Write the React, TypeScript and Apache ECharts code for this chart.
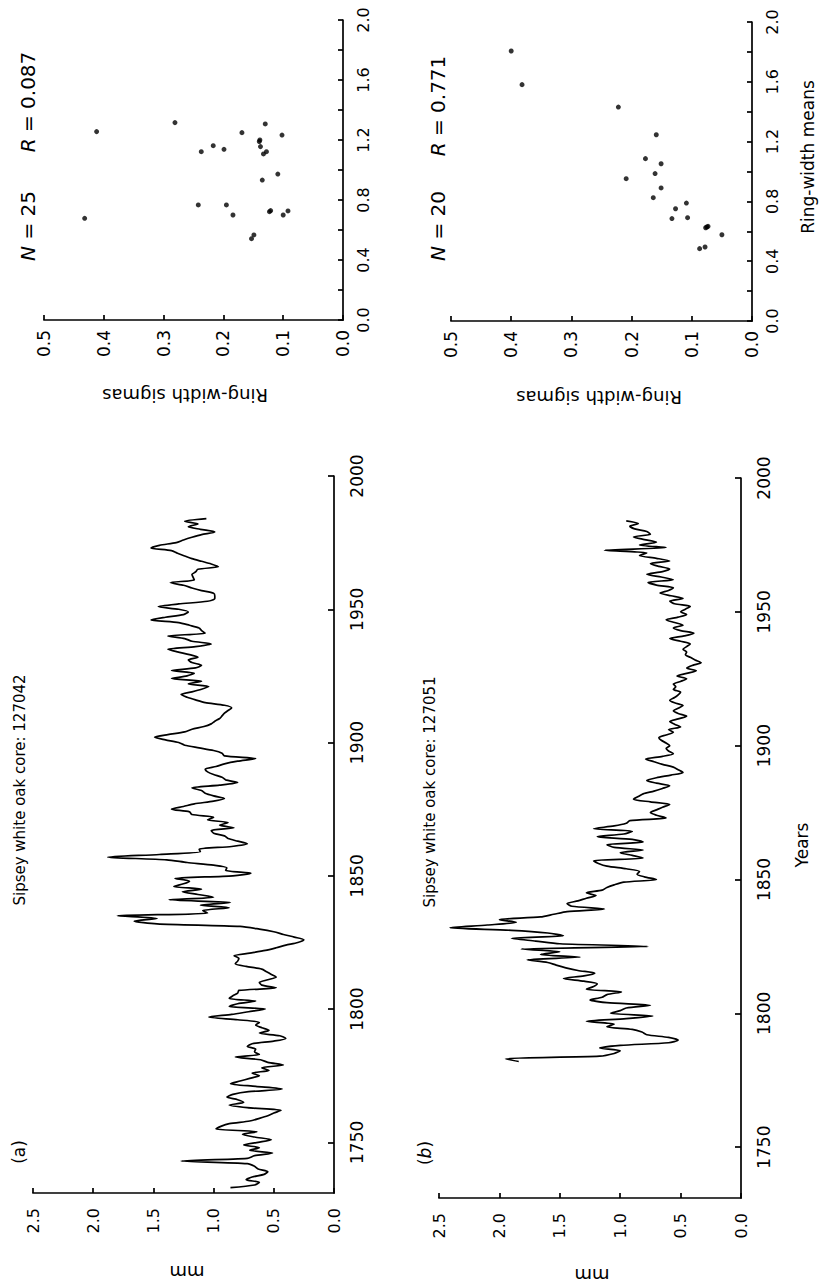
import React, { useEffect, useRef } from "react";
import * as echarts from "echarts";

// ---------- data: core 127042 (panel a) ----------
const yearsA = [
  1733, 1734, 1735, 1736, 1737, 1738, 1739, 1740, 1741, 1742,
  1743, 1744, 1745, 1746, 1747, 1748, 1749, 1750, 1751, 1752,
  1753, 1754, 1755, 1756, 1757, 1758, 1759, 1760, 1761, 1762,
  1763, 1764, 1765, 1766, 1767, 1768, 1769, 1770, 1771, 1772,
  1773, 1774, 1775, 1776, 1777, 1778, 1779, 1780, 1781, 1782,
  1783, 1784, 1785, 1786, 1787, 1788, 1789, 1790, 1791, 1792,
  1793, 1794, 1795, 1796, 1797, 1798, 1799, 1800, 1801, 1802,
  1803, 1804, 1805, 1806, 1807, 1808, 1809, 1810, 1811, 1812,
  1813, 1814, 1815, 1816, 1817, 1818, 1819, 1820, 1821, 1822,
  1823, 1824, 1825, 1826, 1827, 1828, 1829, 1830, 1831, 1832,
  1833, 1834, 1835, 1836, 1837, 1838, 1839, 1840, 1841, 1842,
  1843, 1844, 1845, 1846, 1847, 1848, 1849, 1850, 1851, 1852,
  1853, 1854, 1855, 1856, 1857, 1858, 1859, 1860, 1861, 1862,
  1863, 1864, 1865, 1866, 1867, 1868, 1869, 1870, 1871, 1872,
  1873, 1874, 1875, 1876, 1877, 1878, 1879, 1880, 1881, 1882,
  1883, 1884, 1885, 1886, 1887, 1888, 1889, 1890, 1891, 1892,
  1893, 1894, 1895, 1896, 1897, 1898, 1899, 1900, 1901, 1902,
  1903, 1904, 1905, 1906, 1907, 1908, 1909, 1910, 1911, 1912,
  1913, 1914, 1915, 1916, 1917, 1918, 1919, 1920, 1921, 1922,
  1923, 1924, 1925, 1926, 1927, 1928, 1929, 1930, 1931, 1932,
  1933, 1934, 1935, 1936, 1937, 1938, 1939, 1940, 1941, 1942,
  1943, 1944, 1945, 1946, 1947, 1948, 1949, 1950, 1951, 1952,
  1953, 1954, 1955, 1956, 1957, 1958, 1959, 1960, 1961, 1962,
  1963, 1964, 1965, 1966, 1967, 1968, 1969, 1970, 1971, 1972,
  1973, 1974, 1975, 1976, 1977, 1978, 1979, 1980, 1981, 1982,
  1983, 1984,
];
const mmA = [
  0.86, 0.66, 0.62, 0.73, 0.68, 0.58, 0.55, 0.63, 0.66, 0.72,
  1.27, 0.72, 0.66, 0.51, 0.70, 0.62, 0.75, 0.63, 0.52, 0.66,
  0.76, 0.64, 0.98, 0.94, 0.87, 0.70, 0.62, 0.55, 0.50, 0.44,
  0.72, 0.87, 0.75, 0.80, 0.89, 0.84, 0.71, 0.43, 0.65, 0.86,
  0.78, 0.70, 0.62, 0.68, 0.54, 0.60, 0.42, 0.55, 0.61, 0.82,
  0.62, 0.66, 0.65, 0.72, 0.68, 0.50, 0.40, 0.45, 0.62, 0.54,
  0.60, 0.65, 0.62, 0.80, 1.04, 0.85, 0.71, 0.57, 0.87, 0.80,
  0.65, 0.87, 0.84, 0.80, 0.79, 0.48, 0.60, 0.62, 0.55, 0.48,
  0.52, 0.56, 0.60, 0.73, 0.82, 0.80, 0.79, 0.83, 0.70, 0.57,
  0.48, 0.40, 0.30, 0.25, 0.33, 0.42, 0.50, 0.62, 0.78, 1.47,
  1.66, 1.47, 1.80, 1.05, 1.09, 0.87, 1.11, 0.86, 1.37, 1.00,
  1.13, 1.26, 1.10, 1.33, 1.25, 1.20, 1.32, 0.84, 0.69, 0.90,
  0.89, 1.00, 1.22, 1.39, 1.88, 1.45, 1.11, 1.12, 0.85, 0.72,
  0.80, 0.88, 0.91, 1.00, 1.02, 0.83, 0.95, 0.88, 1.05, 1.00,
  1.18, 1.20, 1.35, 1.25, 1.16, 1.00, 0.91, 1.00, 1.07, 1.10,
  1.18, 0.95, 0.80, 0.90, 0.93, 1.00, 1.05, 1.07, 0.98, 0.91,
  0.80, 0.65, 0.91, 0.93, 1.00, 1.12, 1.24, 1.29, 1.40, 1.49,
  1.38, 1.24, 1.18, 1.08, 1.02, 0.99, 0.95, 0.93, 0.91, 0.88,
  0.85, 0.91, 1.07, 1.15, 1.22, 1.27, 1.18, 1.10, 1.04, 1.21,
  1.10, 1.35, 1.22, 1.16, 1.35, 1.15, 1.10, 1.18, 1.21, 1.13,
  1.20, 1.30, 1.38, 1.15, 1.02, 1.18, 1.24, 1.38, 1.07, 1.10,
  1.12, 1.20, 1.29, 1.52, 1.40, 1.25, 1.21, 1.29, 1.46, 1.29,
  1.05, 0.99, 0.99, 1.00, 1.10, 1.18, 1.25, 1.36, 1.16, 1.17,
  1.18, 1.15, 1.13, 0.96, 1.02, 1.10, 1.18, 1.24, 1.30, 1.35,
  1.52, 1.45, 1.31, 1.25, 1.18, 1.10, 0.99, 1.11, 1.21, 1.13,
  1.24, 1.06,
];

// ---------- data: core 127051 (panel b) ----------
const yearsB = [
  1782, 1783, 1784, 1785, 1786, 1787, 1788, 1789, 1790, 1791,
  1792, 1793, 1794, 1795, 1796, 1797, 1798, 1799, 1800, 1801,
  1802, 1803, 1804, 1805, 1806, 1807, 1808, 1809, 1810, 1811,
  1812, 1813, 1814, 1815, 1816, 1817, 1818, 1819, 1820, 1821,
  1822, 1823, 1824, 1825, 1826, 1827, 1828, 1829, 1830, 1831,
  1832, 1833, 1834, 1835, 1836, 1837, 1838, 1839, 1840, 1841,
  1842, 1843, 1844, 1845, 1846, 1847, 1848, 1849, 1850, 1851,
  1852, 1853, 1854, 1855, 1856, 1857, 1858, 1859, 1860, 1861,
  1862, 1863, 1864, 1865, 1866, 1867, 1868, 1869, 1870, 1871,
  1872, 1873, 1874, 1875, 1876, 1877, 1878, 1879, 1880, 1881,
  1882, 1883, 1884, 1885, 1886, 1887, 1888, 1889, 1890, 1891,
  1892, 1893, 1894, 1895, 1896, 1897, 1898, 1899, 1900, 1901,
  1902, 1903, 1904, 1905, 1906, 1907, 1908, 1909, 1910, 1911,
  1912, 1913, 1914, 1915, 1916, 1917, 1918, 1919, 1920, 1921,
  1922, 1923, 1924, 1925, 1926, 1927, 1928, 1929, 1930, 1931,
  1932, 1933, 1934, 1935, 1936, 1937, 1938, 1939, 1940, 1941,
  1942, 1943, 1944, 1945, 1946, 1947, 1948, 1949, 1950, 1951,
  1952, 1953, 1954, 1955, 1956, 1957, 1958, 1959, 1960, 1961,
  1962, 1963, 1964, 1965, 1966, 1967, 1968, 1969, 1970, 1971,
  1972, 1973, 1974, 1975, 1976, 1977, 1978, 1979, 1980, 1981,
  1982, 1983, 1984,
];
const mmB = [
  1.84, 1.95, 1.17, 1.05, 1.00, 1.17, 1.00, 0.60, 0.52, 0.60,
  0.78, 0.82, 0.90, 1.11, 1.05, 1.28, 0.95, 0.73, 1.08, 1.00,
  0.95, 0.75, 1.11, 1.25, 1.15, 1.11, 0.99, 1.28, 1.22, 1.19,
  1.30, 1.47, 1.30, 1.21, 1.35, 1.45, 1.53, 1.60, 1.77, 1.33,
  1.66, 1.50, 1.82, 0.77, 1.50, 1.70, 1.90, 1.47, 1.60, 1.90,
  2.41, 2.10, 1.86, 2.00, 1.66, 1.55, 1.44, 1.13, 1.40, 1.44,
  1.35, 1.28, 1.20, 1.28, 1.15, 1.11, 1.05, 0.97, 0.70, 0.80,
  0.86, 0.84, 0.95, 1.11, 1.18, 1.22, 0.81, 0.90, 1.00, 0.81,
  1.05, 1.11, 0.81, 0.90, 1.19, 0.97, 0.90, 1.22, 1.05, 0.95,
  0.92, 0.62, 0.70, 0.75, 0.70, 0.65, 0.59, 0.75, 0.89, 0.85,
  0.81, 0.72, 0.65, 0.59, 0.70, 0.78, 0.70, 0.58, 0.48, 0.52,
  0.56, 0.65, 0.72, 0.79, 0.65, 0.56, 0.60, 0.62, 0.59, 0.62,
  0.66, 0.68, 0.62, 0.56, 0.60, 0.50, 0.55, 0.59, 0.52, 0.45,
  0.52, 0.56, 0.52, 0.48, 0.55, 0.59, 0.55, 0.52, 0.50, 0.56,
  0.54, 0.56, 0.50, 0.45, 0.53, 0.45, 0.37, 0.45, 0.40, 0.33,
  0.38, 0.42, 0.46, 0.45, 0.48, 0.45, 0.42, 0.50, 0.59, 0.47,
  0.39, 0.50, 0.56, 0.48, 0.55, 0.62, 0.52, 0.45, 0.50, 0.46,
  0.42, 0.55, 0.59, 0.48, 0.58, 0.67, 0.60, 0.56, 0.70, 0.77,
  0.56, 0.66, 0.78, 0.65, 0.59, 0.68, 0.75, 0.59, 0.70, 0.84,
  0.78, 1.13, 0.62, 0.84, 0.70, 0.80, 0.89, 0.75, 0.78, 0.88,
  0.92, 0.85, 0.95,
];

// ---------- scatter data ----------
const meansA = [0.678, 1.256, 1.316, 0.767, 1.122, 1.162, 1.138, 0.767, 0.70, 1.249, 0.542, 0.567, 1.20, 1.156, 0.933, 1.107, 1.307, 1.122, 0.722, 0.729, 1.19, 0.973, 1.233, 0.70, 0.727];
const sigmasA = [0.432, 0.412, 0.281, 0.242, 0.237, 0.217, 0.199, 0.195, 0.184, 0.169, 0.153, 0.149, 0.139, 0.138, 0.135, 0.133, 0.130, 0.128, 0.123, 0.121, 0.140, 0.109, 0.102, 0.100, 0.092];
const meansB = [1.806, 1.581, 1.431, 0.952, 1.086, 1.246, 0.986, 0.825, 1.052, 0.890, 0.685, 0.751, 0.789, 0.691, 0.484, 0.495, 0.629, 0.633, 0.577, 0.624];
const sigmasB = [0.400, 0.382, 0.222, 0.209, 0.177, 0.159, 0.161, 0.164, 0.151, 0.151, 0.133, 0.127, 0.109, 0.107, 0.087, 0.078, 0.075, 0.073, 0.050, 0.077];

const yearTicks = [1750, 1800, 1850, 1900, 1950, 2000];

const FONT = '"DejaVu Sans", sans-serif';
const INK = "#000";
const lineStyle = { color: "#000", width: 1.7 };

function hAxis(grid: number, max: number, interval: number, size: number, margin: number) {
  return {
    type: "value",
    gridIndex: grid,
    position: "bottom",
    inverse: true,
    min: 0,
    max,
    interval,
    axisLine: { show: true, onZero: false, lineStyle },
    axisTick: { show: true, inside: true, length: 5, lineStyle },
    axisLabel: {
      rotate: 90,
      margin,
      fontFamily: FONT,
      fontSize: size,
      color: INK,
      formatter: (v: number) => v.toFixed(1),
    },
    splitLine: { show: false },
  };
}

function meanAxis(grid: number) {
  return {
    type: "value",
    gridIndex: grid,
    position: "right",
    min: 0,
    max: 2,
    interval: 0.2,
    axisLine: { show: true, onZero: false, lineStyle },
    axisTick: { show: true, inside: true, length: 5, lineStyle },
    axisLabel: {
      rotate: 90,
      margin: 12,
      fontFamily: FONT,
      fontSize: 16,
      color: INK,
      formatter: (v: number) => (Math.round(v * 10) % 4 === 0 ? v.toFixed(1) : ""),
    },
    splitLine: { show: false },
  };
}

function yearAxis(grid: number) {
  return {
    type: "value",
    gridIndex: grid,
    position: "right",
    min: 1731,
    max: 2000,
    axisLine: { show: true, onZero: false, lineStyle },
    axisTick: { show: true, inside: true, length: 6, lineStyle, customValues: yearTicks },
    axisLabel: {
      rotate: 90,
      margin: 14,
      fontFamily: FONT,
      fontSize: 17,
      color: INK,
      customValues: yearTicks,
      formatter: (v: number) => String(v),
    },
    splitLine: { show: false },
  };
}

function txt(text: string, x: number, y: number, rotation: number, size: number, extra: any = {}) {
  return {
    type: "text",
    x,
    y,
    rotation,
    silent: true,
    style: {
      text,
      fill: INK,
      font: `${size}px ${FONT}`,
      align: "center",
      verticalAlign: "middle",
      ...extra,
    },
  };
}

const UP = Math.PI / 2;
const FLIP = Math.PI;
const italic = (size: number) => ({
  rich: { i: { fontStyle: "italic", fontSize: size, fontFamily: FONT, fill: INK } },
});

const option: any = {
  animation: false,
  backgroundColor: "#fff",
  grid: [
    { left: 44, top: 20, width: 299, height: 300 },
    { left: 451, top: 22, width: 301, height: 299 },
    { left: 33, top: 476, width: 301, height: 717 },
    { left: 439, top: 478, width: 302, height: 720 },
  ],
  xAxis: [
    hAxis(0, 0.5, 0.1, 17, 10),
    hAxis(1, 0.5, 0.1, 17, 10),
    hAxis(2, 2.5, 0.5, 16, 15),
    hAxis(3, 2.5, 0.5, 16, 15),
  ],
  yAxis: [meanAxis(0), meanAxis(1), yearAxis(2), yearAxis(3)],
  series: [
    {
      type: "scatter",
      xAxisIndex: 0,
      yAxisIndex: 0,
      symbolSize: 5,
      itemStyle: { color: "#000" },
      data: meansA.map((m, i) => [sigmasA[i], m]),
    },
    {
      type: "scatter",
      xAxisIndex: 1,
      yAxisIndex: 1,
      symbolSize: 5,
      itemStyle: { color: "#000" },
      data: meansB.map((m, i) => [sigmasB[i], m]),
    },
    {
      type: "line",
      xAxisIndex: 2,
      yAxisIndex: 2,
      showSymbol: false,
      symbol: "none",
      smooth: 0.25,
      lineStyle: { color: "#000", width: 1.7 },
      data: yearsA.map((y, i) => [mmA[i], y]),
    },
    {
      type: "line",
      xAxisIndex: 3,
      yAxisIndex: 3,
      showSymbol: false,
      symbol: "none",
      smooth: 0.25,
      lineStyle: { color: "#000", width: 1.7 },
      data: yearsB.map((y, i) => [mmB[i], y]),
    },
  ],
  graphic: [
    txt("{i|N} = 25", 28, 226, UP, 20, italic(20)),
    txt("{i|R} = 0.087", 28, 102, UP, 20, italic(20)),
    txt("{i|N} = 20", 438, 226, UP, 20, italic(20)),
    txt("{i|R} = 0.771", 438, 106, UP, 20, italic(20)),
    txt("Ring-width sigmas", 185, 395, FLIP, 18),
    txt("Ring-width sigmas", 599, 397, FLIP, 18),
    txt("Ring-width means", 808, 157, UP, 17),
    txt("Sipsey white oak core: 127042", 20, 790, UP, 15),
    txt("Sipsey white oak core: 127051", 430, 792, UP, 15),
    txt("(a)", 19, 1152, UP, 17),
    txt("({i|b})", 425, 1153, UP, 17, italic(17)),
    txt("mm", 187, 1272, FLIP, 18),
    txt("mm", 592, 1275, FLIP, 18),
    txt("Years", 802, 845, UP, 17),
  ],
};

export default function App() {
  const ref = useRef<HTMLDivElement>(null);
  useEffect(() => {
    const chart = echarts.init(ref.current as HTMLDivElement, null, { renderer: "svg" });
    chart.setOption(option);
    return () => chart.dispose();
  }, []);
  return (
    <div
      ref={ref}
      style={{ position: "absolute", left: 0, top: 0, width: 820, height: 1285, background: "#fff" }}
    />
  );
}
